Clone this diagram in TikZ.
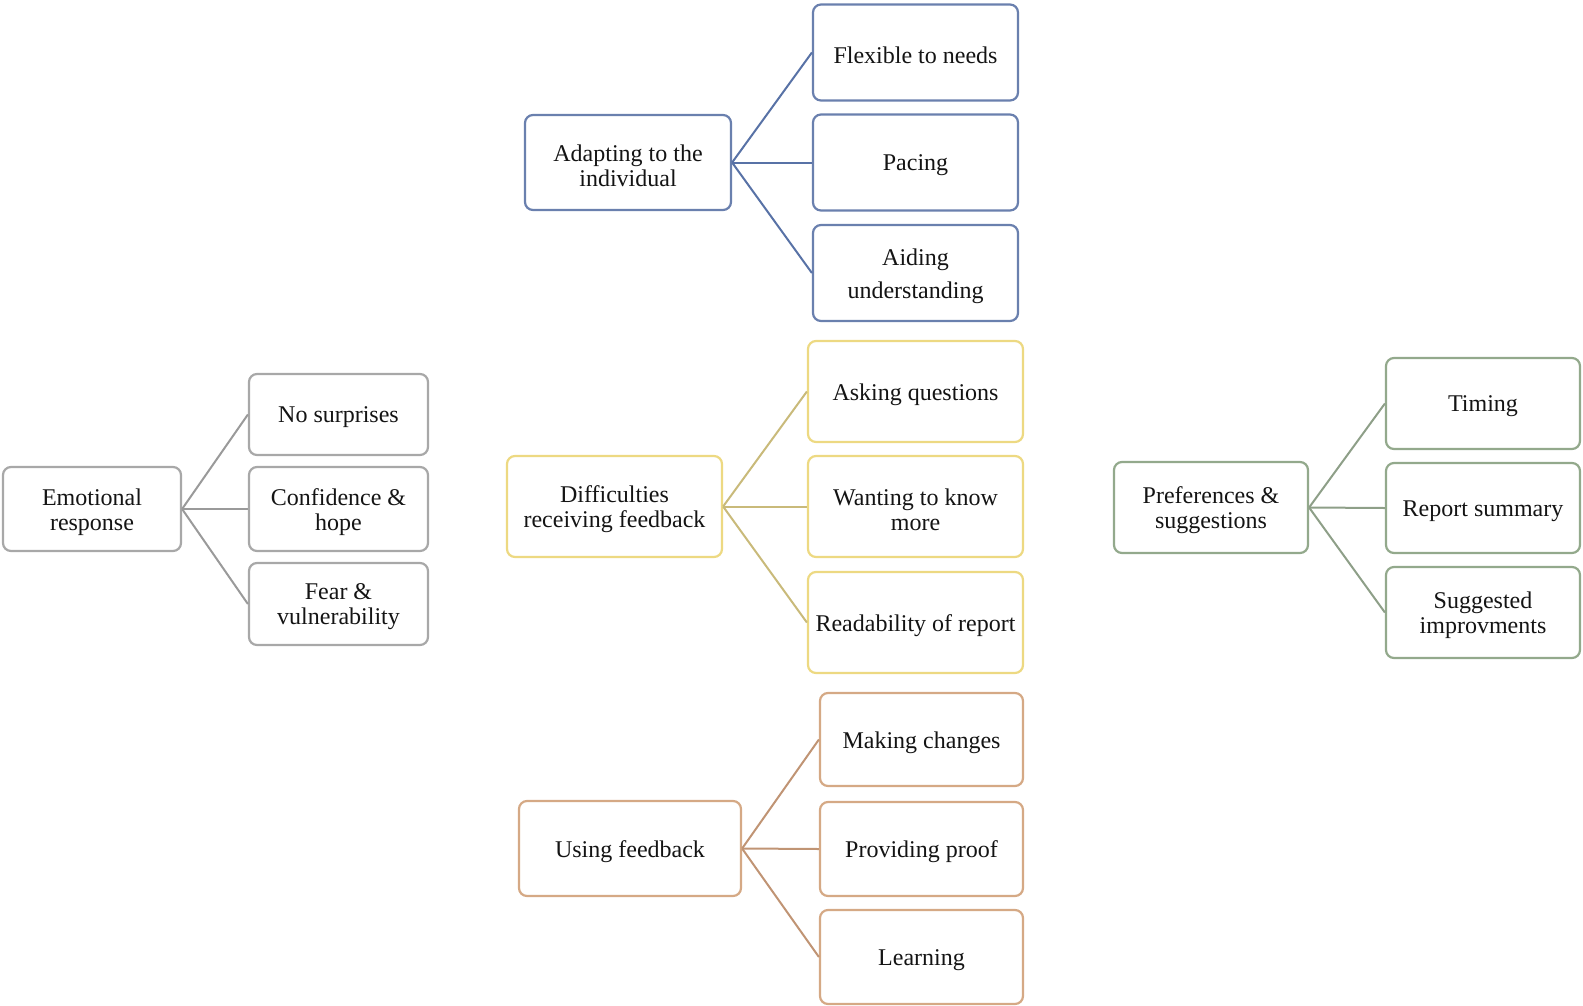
\documentclass[tikz,border=0pt]{standalone}
\usepackage{fontspec}
\setmainfont{Liberation Serif}
\definecolor{bluB}{HTML}{6A80AE}
\definecolor{bluL}{HTML}{5872A6}
\definecolor{grayB}{HTML}{A8A8A8}
\definecolor{grayL}{HTML}{9A9A9A}
\definecolor{yelB}{HTML}{EDD982}
\definecolor{yelL}{HTML}{C9BA7A}
\definecolor{grnB}{HTML}{93A98C}
\definecolor{grnL}{HTML}{8E9F88}
\definecolor{orgB}{HTML}{D5A985}
\definecolor{orgL}{HTML}{C09474}
\tikzset{
  bx/.style={draw=#1, line width=2.2pt, rounded corners=8pt, fill=white, inner sep=0pt},
  txt/.style={label={[align=center, inner sep=0pt, yshift=-3pt,
    font=\fontsize{24}{25}\selectfont, text=black!92]center:{#1}}},
  cn/.style={draw=#1, line width=2pt},
}
\begin{document}
\begin{tikzpicture}[x=1pt,y=-1pt]
\useasboundingbox (0,0) rectangle (1583,1005);
% Blue group
\node[bx=bluB, minimum width=206pt, minimum height=95pt, txt={Adapting to the\\individual}] (ad) at (628,162.5) {};
\node[bx=bluB, minimum width=205pt, minimum height=96pt, txt={Flexible to needs}] (fl) at (915.5,52.5) {};
\node[bx=bluB, minimum width=205pt, minimum height=96pt, txt={Pacing}] (pa) at (915.5,162.5) {};
\node[bx=bluB, minimum width=205pt, minimum height=96pt, txt={Aiding\\[8pt]understanding}] (ai) at (915.5,273) {};
% Gray group
\node[bx=grayB, minimum width=178pt, minimum height=84pt, txt={Emotional\\response}] (em) at (92,509) {};
\node[bx=grayB, minimum width=179pt, minimum height=81pt, txt={No surprises}] (ns) at (338.5,414.5) {};
\node[bx=grayB, minimum width=179pt, minimum height=84pt, txt={Confidence \&\\hope}] (co) at (338.5,509) {};
\node[bx=grayB, minimum width=179pt, minimum height=82pt, txt={Fear \&\\vulnerability}] (fe) at (338.5,604) {};
% Yellow group
\node[bx=yelB, minimum width=215pt, minimum height=101pt, txt={Difficulties\\receiving feedback}] (di) at (614.5,506.5) {};
\node[bx=yelB, minimum width=215pt, minimum height=101pt, txt={Asking questions}] (as) at (915.5,391.5) {};
\node[bx=yelB, minimum width=215pt, minimum height=101pt, txt={Wanting to know\\more}] (wa) at (915.5,506.5) {};
\node[bx=yelB, minimum width=215pt, minimum height=101pt, txt={Readability of report}] (re) at (915.5,622.5) {};
% Green group
\node[bx=grnB, minimum width=194pt, minimum height=91pt, txt={Preferences \&\\suggestions}] (pr) at (1211,507.5) {};
\node[bx=grnB, minimum width=194pt, minimum height=91pt, txt={Timing}] (ti) at (1483,403.5) {};
\node[bx=grnB, minimum width=194pt, minimum height=90pt, txt={Report summary}] (rs) at (1483,508) {};
\node[bx=grnB, minimum width=194pt, minimum height=91pt, txt={Suggested\\improvments}] (su) at (1483,612.5) {};
% Orange group
\node[bx=orgB, minimum width=222pt, minimum height=95pt, txt={Using feedback}] (us) at (630,848.5) {};
\node[bx=orgB, minimum width=203pt, minimum height=93pt, txt={Making changes}] (mk) at (921.5,739.5) {};
\node[bx=orgB, minimum width=203pt, minimum height=94pt, txt={Providing proof}] (pp) at (921.5,849) {};
\node[bx=orgB, minimum width=203pt, minimum height=94pt, txt={Learning}] (le) at (921.5,957) {};
% Connectors
\foreach \c in {fl,pa,ai} \draw[cn=bluL] (ad.east) -- (\c.west);
\foreach \c in {ns,co,fe} \draw[cn=grayL] (em.east) -- (\c.west);
\foreach \c in {as,wa,re} \draw[cn=yelL] (di.east) -- (\c.west);
\foreach \c in {ti,rs,su} \draw[cn=grnL] (pr.east) -- (\c.west);
\foreach \c in {mk,pp,le} \draw[cn=orgL] (us.east) -- (\c.west);
\end{tikzpicture}
\end{document}
